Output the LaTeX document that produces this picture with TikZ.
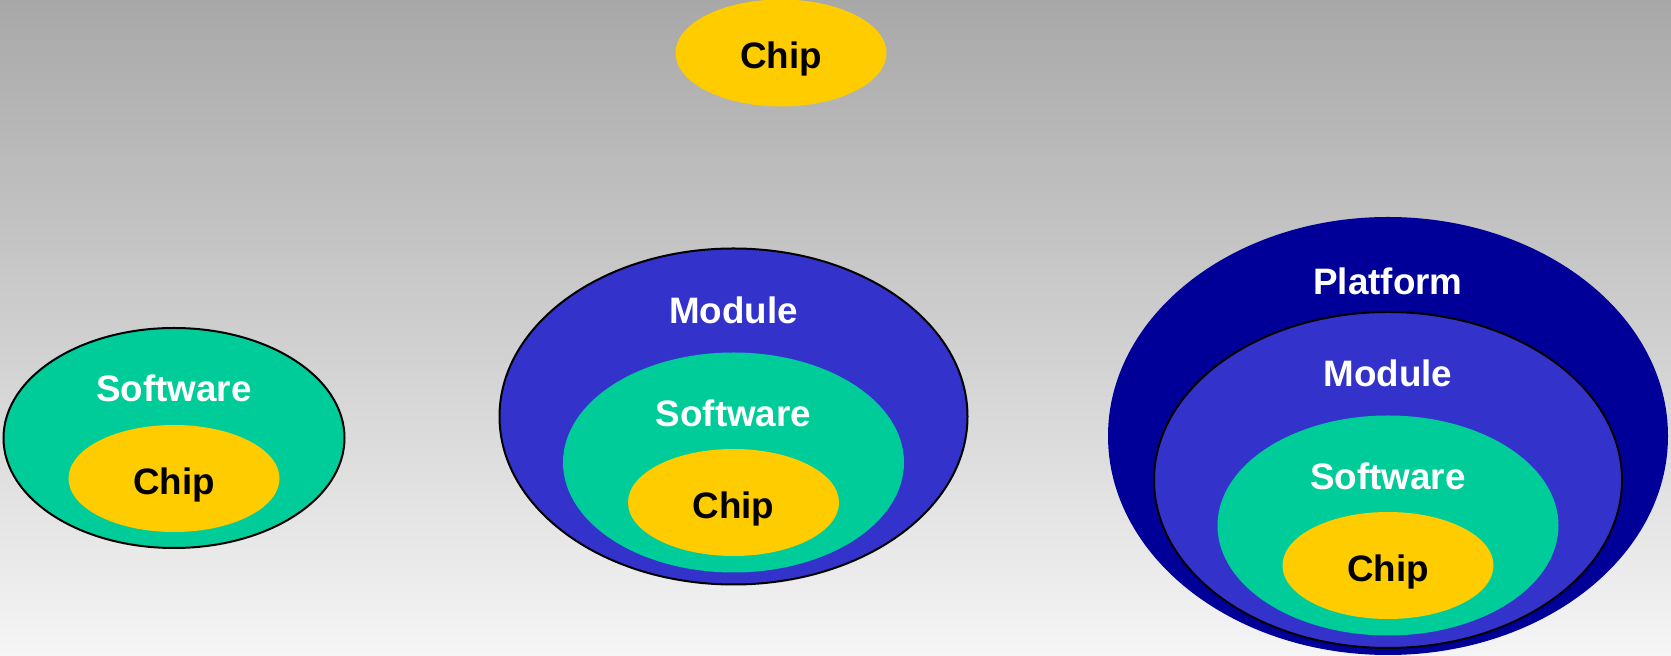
\documentclass[tikz,border=0pt]{standalone}
\usepackage{fontspec}
\setmainfont{Liberation Sans}
\usetikzlibrary{shapes.geometric}

\definecolor{chipyellow}{HTML}{FFCC00}
\definecolor{swgreen}{HTML}{00CC99}
\definecolor{modblue}{HTML}{3333CC}
\definecolor{platblue}{HTML}{000099}
\definecolor{bgtop}{HTML}{A8A8A8}
\definecolor{bgbottom}{HTML}{F5F5F5}

\begin{document}
\begin{tikzpicture}[x=0.5pt, y=-0.5pt,
    blob/.style={ellipse, inner sep=0pt, draw=none},
    chip/.style={blob, fill=chipyellow, minimum width=105.5pt, minimum height=53.5pt},
    soft/.style={blob, fill=swgreen, minimum width=170.5pt, minimum height=110pt},
    modl/.style={blob, fill=modblue, minimum width=234pt, minimum height=168pt},
    plat/.style={blob, fill=platblue, minimum width=280pt, minimum height=219pt},
    outlined/.style={draw=black, line width=1pt},
    tag/.style={anchor=base, font=\fontsize{18.4}{21}\selectfont\bfseries, text=white},
    chiptag/.style={tag, text=black}]

    % backdrop
    \shade[top color=bgtop, bottom color=bgbottom] (0,0) rectangle (1671,656);
    \useasboundingbox (0,0) rectangle (1671,656);

    % lone chip
    \node[chip] (chipT) at (781,53) {};
    \node[chiptag] (chipTtxt) at ([yshift=-8pt]chipT.center) {Chip};

    % software around chip
    \node[soft, outlined] (swL) at (174,438) {};
    \node[chip] (chipL) at (174,478.5) {};
    \node[tag] (swLtxt) at ([yshift=-37.5pt]swL.north) {Software};
    \node[chiptag] (chipLtxt) at ([yshift=-8pt]chipL.center) {Chip};

    % module around software
    \node[modl, outlined] (modM) at (733.5,416.5) {};
    \node[soft] (swM) at (733.5,462.5) {};
    \node[chip] (chipM) at (733.5,502.5) {};
    \node[tag] (modMtxt) at ([yshift=-38pt]modM.north) {Module};
    \node[tag] (swMtxt) at ([yshift=-37pt]swM.north) {Software};
    \node[chiptag] (chipMtxt) at ([yshift=-8pt]chipM.center) {Chip};

    % platform around module
    \node[plat] (platR) at (1388,436) {};
    \node[modl, outlined] (modR) at (1388,480) {};
    \node[soft] (swR) at (1388,525.5) {};
    \node[chip] (chipR) at (1388,565.5) {};
    \node[tag] (platRtxt) at ([yshift=-39pt]platR.north) {Platform};
    \node[tag] (modRtxt) at ([yshift=-38pt]modR.north) {Module};
    \node[tag] (swRtxt) at ([yshift=-37pt]swR.north) {Software};
    \node[chiptag] (chipRtxt) at ([yshift=-8pt]chipR.center) {Chip};

\end{tikzpicture}
\end{document}
